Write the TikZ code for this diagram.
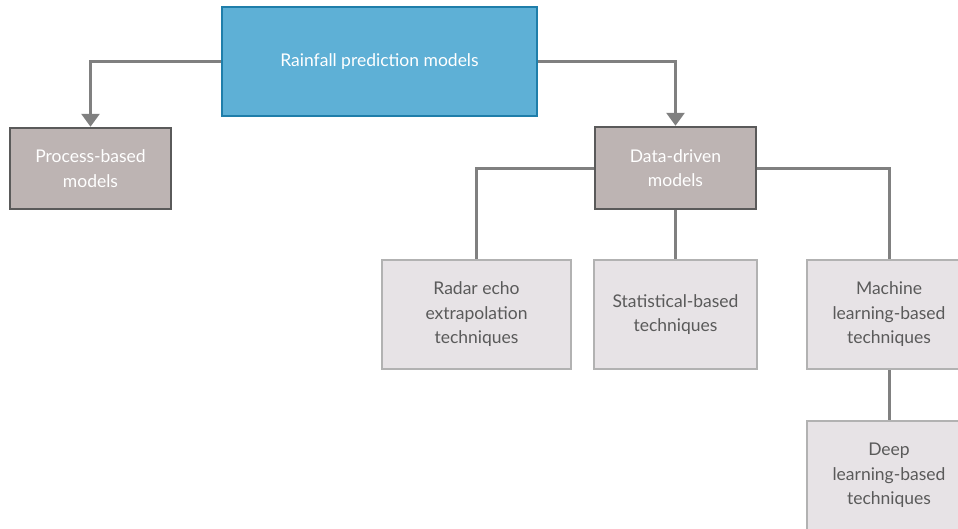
\documentclass[tikz,border=0pt]{standalone}
\usepackage{fontspec}
\setmainfont{Lato}
\usetikzlibrary{arrows.meta}
\definecolor{rootfill}{HTML}{5EB0D6}
\definecolor{rootedge}{HTML}{1F7EAA}
\definecolor{midfill}{HTML}{BDB4B3}
\definecolor{midedge}{HTML}{5A5A5A}
\definecolor{leaffill}{HTML}{E7E3E6}
\definecolor{leafedge}{HTML}{B2B2B2}
\definecolor{linkgray}{HTML}{808080}
\definecolor{leaftext}{HTML}{5A5A5A}
\tikzset{
  box/.style={rectangle, align=center, inner sep=0pt, font=\fontsize{17.5}{24.5}\selectfont},
  rootbox/.style={box, fill=rootfill, draw=rootedge, line width=2.5pt, text=white},
  midbox/.style={box, fill=midfill, draw=midedge, line width=2.5pt, text=white},
  leafbox/.style={box, fill=leaffill, draw=leafedge, line width=2.5pt, text=leaftext},
  link/.style={draw=linkgray, line width=3pt},
  arrowlink/.style={link, -{Triangle[width=18pt,length=13pt]}},
}
\begin{document}
\begin{tikzpicture}[x=1pt,y=-1pt]
\useasboundingbox (0,0) rectangle (958,528);
\clip (0,0) rectangle (958,528);

% boxes of the hierarchy
\node[rootbox, minimum width=315pt, minimum height=109pt] (root) at (379.5,61.5) {Rainfall prediction models};
\node[midbox, minimum width=161pt, minimum height=81pt] (proc) at (90.5,168.5) {Process-based\\models};
\node[midbox, minimum width=161pt, minimum height=82pt] (data) at (675.5,168) {Data-driven\\models};
\node[leafbox, minimum width=189pt, minimum height=109pt] (radar) at (476.5,314.5) {Radar echo\\extrapolation\\techniques};
\node[leafbox, minimum width=163pt, minimum height=109pt] (stat) at (675.5,314.5) {Statistical-based\\techniques};
\node[leafbox, minimum width=164pt, minimum height=109pt] (mach) at (889,314.5) {Machine\\learning-based\\techniques};
\node[leafbox, minimum width=164pt, minimum height=109pt] (deep) at (889,475.5) {Deep\\learning-based\\techniques};

% connectors
\draw[arrowlink] (root.west) -| (proc.north);
\draw[arrowlink] (root.east) -| (data.north);
\draw[link] (data.west) -| (radar.north);
\draw[link] (data.south) -- (stat.north);
\draw[link] (data.east) -| (mach.north);
\draw[link] (mach.south) -- (deep.north);
\end{tikzpicture}
\end{document}
